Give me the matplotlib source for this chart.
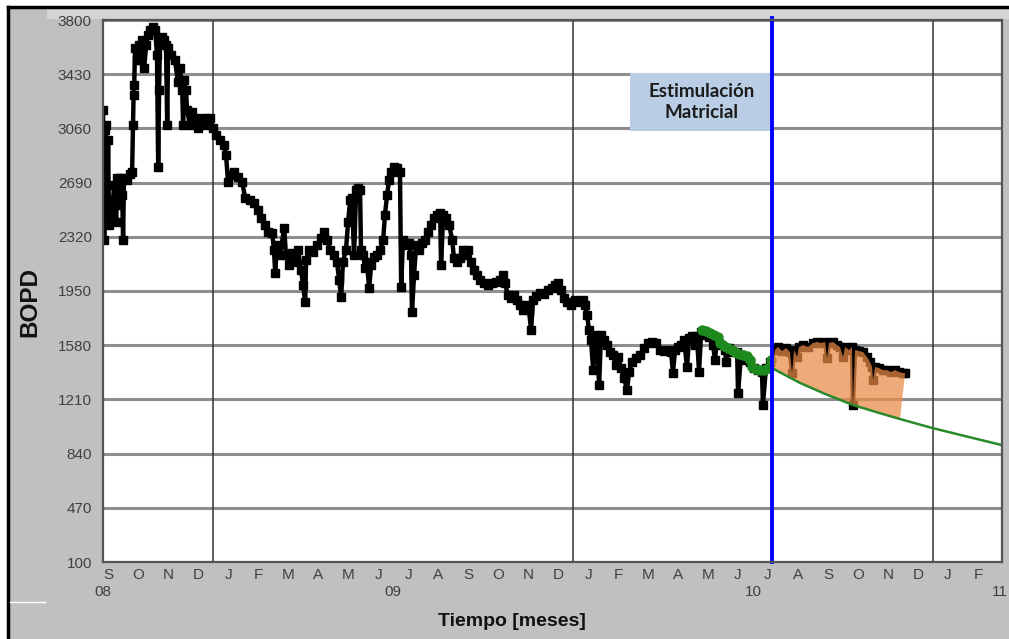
import numpy as np
import matplotlib.pyplot as plt
from matplotlib.patches import Rectangle
from matplotlib.lines import Line2D

plt.rcParams['font.family'] = ['Liberation Sans', 'DejaVu Sans']

# time axis in months counted from Jan 2009 (0 = Jan 1 2009)
t_obs = [-3.67, -3.63, -3.60, -3.57, -3.53, -3.50, -3.47, -3.40, -3.37, -3.30,
         -3.23, -3.20, -3.13, -3.10, -3.03, -3.00, -2.97, -2.87, -2.77, -2.70,
         -2.67, -2.65, -2.63, -2.60, -2.53, -2.47, -2.40, -2.37, -2.30, -2.23,
         -2.17, -2.10, -2.00, -1.93, -1.87, -1.83, -1.80, -1.77, -1.70, -1.63,
         -1.57, -1.53, -1.50, -1.40, -1.27, -1.17, -1.10, -1.03, -1.00, -0.97,
         -0.90, -0.87, -0.77, -0.70, -0.60, -0.50, -0.40, -0.30, -0.20, -0.10,
         0.00, 0.10, 0.23, 0.37, 0.43, 0.50, 0.57, 0.70, 0.83, 0.97,
         1.07, 1.23, 1.37, 1.50, 1.60, 1.73, 1.83, 1.97, 2.03, 2.07,
         2.13, 2.23, 2.37, 2.43, 2.53, 2.63, 2.73, 2.83, 2.93, 3.00,
         3.07, 3.10, 3.20, 3.33, 3.47, 3.60, 3.70, 3.80, 3.90, 4.03,
         4.13, 4.20, 4.27, 4.33, 4.43, 4.50, 4.57, 4.63, 4.70, 4.77,
         4.83, 4.90, 4.93, 5.00, 5.07, 5.13, 5.20, 5.27, 5.37, 5.47,
         5.57, 5.67, 5.73, 5.80, 5.87, 5.93, 6.03, 6.13, 6.23, 6.27,
         6.33, 6.43, 6.53, 6.60, 6.63, 6.70, 6.77, 6.87, 6.97, 7.07,
         7.17, 7.27, 7.37, 7.47, 7.57, 7.60, 7.67, 7.77, 7.87, 7.97,
         8.03, 8.13, 8.23, 8.33, 8.43, 8.50, 8.60, 8.70, 8.80, 8.90,
         9.03, 9.17, 9.30, 9.43, 9.57, 9.67, 9.73, 9.83, 9.93, 10.03,
         10.13, 10.23, 10.33, 10.43, 10.53, 10.60, 10.67, 10.77, 10.90, 11.03,
         11.17, 11.30, 11.40, 11.50, 11.60, 11.70, 11.80, 11.93, 12.07, 12.20,
         12.33, 12.40, 12.47, 12.53, 12.60, 12.67, 12.73, 12.80, 12.87, 12.93,
         13.03, 13.13, 13.23, 13.33, 13.43, 13.50, 13.60, 13.70, 13.80, 13.87,
         13.97, 14.10, 14.23, 14.37, 14.50, 14.63, 14.77, 14.90, 15.03, 15.17,
         15.27, 15.33, 15.40, 15.50, 15.60, 15.70, 15.80, 15.87, 15.97, 16.07,
         16.13, 16.20, 16.27, 16.40, 16.53, 16.67, 16.73, 16.80, 16.93, 17.07,
         17.10, 17.20, 17.33, 17.47, 17.50, 17.60, 17.77, 17.90, 18.03, 18.17,
         18.30, 18.33, 18.43, 18.57]
q_obs = [3185, 2300, 3050, 3085, 2470, 2980, 2400, 2570, 2470, 2675,
         2420, 2720, 2535, 2720, 2605, 2300, 2720, 2710, 2750, 2760,
         3085, 3290, 3355, 3610, 3525, 3630, 3525, 3665, 3470, 3630,
         3700, 3730, 3750, 3730, 3560, 2795, 3320, 3665, 3685, 3665,
         3630, 3085, 3610, 3560, 3525, 3375, 3470, 3320, 3085, 3390,
         3320, 3185, 3085, 3170, 3130, 3065, 3115, 3130, 3085, 3130,
         3065, 3015, 2980, 2945, 2880, 2695, 2740, 2760, 2730, 2695,
         2585, 2570, 2550, 2505, 2450, 2400, 2355, 2345, 2230, 2075,
         2265, 2195, 2380, 2195, 2125, 2210, 2150, 2230, 2095, 1990,
         1875, 2160, 2230, 2215, 2265, 2310, 2355, 2300, 2230, 2195,
         2150, 2025, 1910, 2150, 2230, 2420, 2570, 2585, 2195, 2640,
         2655, 2640, 2230, 2195, 2107, 2150, 1970, 2125, 2180, 2195,
         2230, 2300, 2470, 2605, 2710, 2760, 2795, 2790, 2760, 1975,
         2300, 2265, 2280, 2195, 1805, 2060, 2265, 2230, 2280, 2300,
         2355, 2400, 2450, 2470, 2480, 2125, 2470, 2450, 2400, 2300,
         2175, 2150, 2175, 2230, 2195, 2230, 2150, 2095, 2060, 2025,
         2005, 1990, 2005, 2011, 2025, 2060, 2005, 1922, 1902, 1922,
         1890, 1854, 1820, 1854, 1820, 1684, 1890, 1916, 1936, 1929,
         1955, 1971, 1990, 2005, 1955, 1902, 1875, 1854, 1890, 1875,
         1890, 1854, 1786, 1684, 1615, 1410, 1649, 1581, 1308, 1649,
         1615, 1581, 1533, 1513, 1445, 1499, 1424, 1356, 1274, 1397,
         1465, 1492, 1513, 1561, 1595, 1602, 1595, 1547, 1540, 1547,
         1533, 1390, 1547, 1568, 1581, 1615, 1431, 1629, 1643, 1581,
         1643, 1397, 1670, 1649, 1636, 1581, 1479, 1615, 1581, 1547,
         1465, 1561, 1533, 1533, 1254, 1513, 1479, 1465, 1424, 1410,
         1397, 1170, 1424, 1465]

# production after the matrix stimulation
t_post = [18.73, 18.83, 18.97, 19.10, 19.23, 19.30, 19.37, 19.47, 19.53, 19.67,
          19.83, 20.00, 20.13, 20.27, 20.40, 20.47, 20.53, 20.67, 20.80, 20.90,
          21.00, 21.07, 21.20, 21.30, 21.33, 21.40, 21.53, 21.67, 21.80, 21.90,
          21.97, 22.00, 22.07, 22.20, 22.33, 22.47, 22.60, 22.73, 22.87, 23.00,
          23.07]
q_post = [1547, 1568, 1540, 1561, 1533, 1390, 1547, 1499, 1568, 1581,
          1568, 1595, 1602, 1595, 1602, 1492, 1595, 1602, 1581, 1568,
          1499, 1568, 1547, 1568, 1172, 1547, 1540, 1533, 1499, 1465,
          1431, 1342, 1431, 1424, 1410, 1410, 1397, 1410, 1397, 1390,
          1390]

# points used for the decline fit
t_fit = [16.30, 16.43, 16.57, 16.70, 16.83, 16.90, 17.03, 17.17, 17.30, 17.40,
         17.53, 17.67, 17.80, 17.90, 17.97, 18.10, 18.23, 18.37, 18.50, 18.60]
q_fit = [1684, 1677, 1663, 1649, 1636, 1595, 1574, 1561, 1547, 1533,
         1520, 1513, 1506, 1479, 1431, 1417, 1410, 1410, 1424, 1479]

# decline curve (forecast without stimulation)
t_decl = [18.63, 19.57, 20.43, 21.33, 22.10, 22.90, 23.97, 25.10, 26.30]
q_decl = [1424, 1322, 1245, 1172, 1124, 1076, 1015, 958, 898]

t_stim = 18.63
y_ticks = [100, 470, 840, 1210, 1580, 1950, 2320, 2690, 3060, 3430, 3800]
month_lbl = list("SONDJFMAMJJASONDJFMAMJJASONDJF")
year_lbl = ['08', '09', '10']
year_pos = [-3.67, 6.0, 18.0]

W, H = 1009, 639
fig = plt.figure(figsize=(W / 100, H / 100), dpi=100, facecolor='white')

# grey frame of the original screenshot
fig.patches.append(Rectangle((8 / W, 0), 1, 1 - 7 / H, transform=fig.transFigure,
                             facecolor='#c0c0c0', edgecolor='none', zorder=-3))
fig.patches.append(Rectangle((47 / W, 1 - 19 / H), 1, 10 / H, transform=fig.transFigure,
                             facecolor='#d4d4d4', edgecolor='none', zorder=-2))
fig.lines.append(Line2D([8 / W, 1], [1 - 7 / H, 1 - 7 / H], transform=fig.transFigure,
                        color='black', lw=2.5, zorder=-1))
fig.lines.append(Line2D([8 / W, 8 / W], [0, 1 - 7 / H], transform=fig.transFigure,
                        color='black', lw=2.5, zorder=-1))
fig.lines.append(Line2D([10 / W, 45 / W], [1 - 602 / H, 1 - 602 / H],
                        transform=fig.transFigure, color='white', lw=1, zorder=-1))

ax = fig.add_axes([103 / W, 1 - 562 / H, 899 / W, 542 / H])
ax.set_facecolor('white')
ax.set_xlim(-3.67, 26.3)
ax.set_ylim(100, 3800)

for y in y_ticks:
    ax.axhline(y, color='#8e8e8e', lw=2.2, zorder=1)
for yr in [0, 12, 24]:
    ax.axvline(yr, color='#333333', lw=1.1, zorder=1)

t_all = t_obs + t_post
q_all = q_obs + q_post
ax.plot(t_all, q_all, color='black', lw=3.2, marker='s', ms=5.5, zorder=3)
ax.plot(t_fit, q_fit, color='#1e8a1e', lw=3.6, marker='o', ms=6.5, zorder=4)

# incremental production area
fx = t_post + t_decl[5::-1]
fy = q_post + q_decl[5::-1]
ax.fill(fx, fy, color='#ea8a45', alpha=0.72, lw=0, zorder=5)
ax.plot(t_decl, q_decl, color='#2a8a2a', lw=1.8, zorder=6)

ax.axvline(t_stim, color='#0000ff', lw=2.8, zorder=7, ymax=1.004, clip_on=False)

ax.add_patch(Rectangle((13.9, 3040), t_stim - 13.9 - 0.04, 398, facecolor='#b9cde5',
                       edgecolor='none', zorder=6))
ax.text(16.27, 3240, 'Estimulación\nMatricial', ha='center', va='center',
        fontsize=13.5, fontweight='bold', family=['Lato', 'DejaVu Sans'],
        color='#1c1c1c', linespacing=1.3, zorder=8)

ax.set_yticks(y_ticks)
ax.set_yticklabels([str(v) for v in y_ticks])
ax.set_xticks([k + 0.5 for k in range(-4, 26)])
ax.set_xticklabels(month_lbl)
ax.tick_params(axis='both', length=0, labelsize=11, labelcolor='#404040')
ax.tick_params(axis='y', pad=8)
ax.tick_params(axis='x', pad=4)
for yp, yl in zip(year_pos, year_lbl):
    ax.text(yp, -0.056, yl, transform=ax.get_xaxis_transform(), ha='center',
            va='center', fontsize=11, color='#404040', clip_on=False)
# last year label sits at the right edge of the picture
fig.text(1008 / W, 1 - 592 / H, '11', ha='right', va='center', fontsize=11,
         color='#404040')

for s in ax.spines.values():
    s.set_color('#555555')
    s.set_linewidth(1.6)
    s.set_zorder(9)

fig.text(30 / W, 1 - 302 / H, 'BOPD', rotation=90, ha='center', va='center',
         fontsize=17.5, fontweight='bold', color='#111111')
fig.text(512 / W, 1 - 622 / H, 'Tiempo [meses]', ha='center', va='center',
         fontsize=14, fontweight='bold', color='#111111')

fig.savefig('out.png', dpi=100, facecolor=fig.get_facecolor())
